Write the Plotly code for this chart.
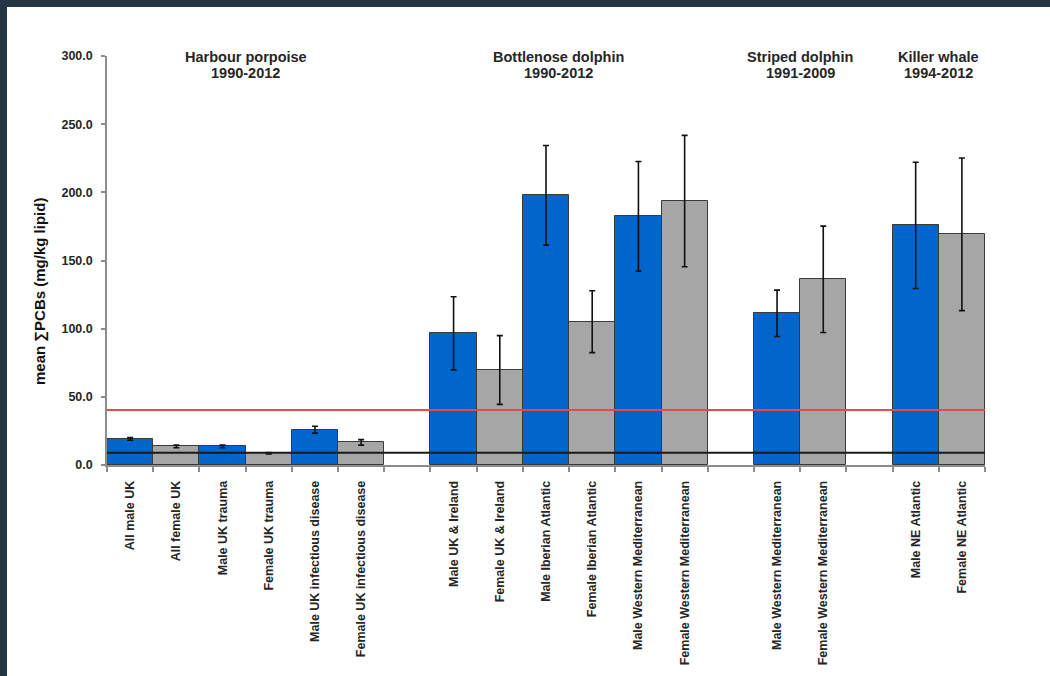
import plotly.graph_objects as go

# Species groups, sampling periods and per-group categories
groups = ["Harbour porpoise", "Bottlenose dolphin", "Striped dolphin", "Killer whale"]
periods = ["1990-2012", "1990-2012", "1991-2009", "1994-2012"]

porpoise_labels = ["All male UK", "All female UK", "Male UK trauma", "Female UK trauma",
                   "Male UK infectious disease", "Female UK infectious disease"]
porpoise_mean = [19.1, 13.6, 13.6, 8.6, 25.9, 16.6]
porpoise_err = [1.0, 1.0, 1.0, 0.5, 2.5, 2.0]

bottlenose_labels = ["Male UK & Ireland", "Female UK & Ireland", "Male Iberian Atlantic",
                     "Female Iberian Atlantic", "Male Western Mediterranean",
                     "Female Western Mediterranean"]
bottlenose_mean = [96.6, 69.7, 197.8, 105.1, 182.4, 193.6]
bottlenose_err = [26.8, 25.2, 36.5, 22.7, 40.2, 48.2]

striped_labels = ["Male Western Mediterranean", "Female Western Mediterranean"]
striped_mean = [111.3, 136.2]
striped_err = [17.0, 39.0]

killer_labels = ["Male NE Atlantic", "Female NE Atlantic"]
killer_mean = [175.8, 169.2]
killer_err = [46.3, 56.0]

# Reference thresholds (mg/kg lipid)
upper_threshold = 40.3
lower_threshold = 9.0

y_ticks = [0, 50, 100, 150, 200, 250, 300]

# ---- layout geometry ----
W, H = 1050, 676
ML, MR, MT, MB = 107, 65, 56, 211
PW, PH = W - ML - MR, H - MT - MB

BLUE = "#0066CC"
GREY = "#A6A6A6"
FONT = "Liberation Sans, Arial, sans-serif"
TXT = "#262626"

group_data = [
    (porpoise_labels, porpoise_mean, porpoise_err),
    (bottlenose_labels, bottlenose_mean, bottlenose_err),
    (striped_labels, striped_mean, striped_err),
    (killer_labels, killer_mean, killer_err),
]

# assign slot positions, leaving one empty slot between groups
xs, labels, means, errs, colors, centers = [], [], [], [], [], []
slot = 0
for gi, (lab, m, e) in enumerate(group_data):
    start = slot
    for l, v, err in zip(lab, m, e):
        xs.append(slot)
        labels.append(l)
        means.append(v)
        errs.append(err)
        colors.append(GREY if "emale" in l else BLUE)
        slot += 1
    centers.append((start + slot - 1) / 2)
    if gi < len(group_data) - 1:
        slot += 1
n_slots = slot

fig = go.Figure()
fig.add_trace(go.Bar(
    x=xs, y=means, width=1.0,
    marker=dict(color=colors, line=dict(color="#3a3a3a", width=1)),
    error_y=dict(type="data", array=errs, visible=True,
                 color="#111111", thickness=1.6, width=3),
    hoverinfo="x+y",
))

def px_x(p):
    return (p - ML) / PW

def px_y(p):
    return (H - MB - p) / PH

shapes = [
    # threshold lines
    dict(type="line", xref="paper", yref="y", x0=0, x1=1,
         y0=upper_threshold, y1=upper_threshold,
         line=dict(color="#E8494A", width=2), layer="above"),
    dict(type="line", xref="paper", yref="y", x0=0, x1=1,
         y0=lower_threshold, y1=lower_threshold,
         line=dict(color="#1a1a1a", width=2), layer="above"),
    # dark frame strips along top and left edges
    dict(type="rect", xref="paper", yref="paper",
         x0=px_x(0), x1=px_x(W), y0=px_y(7), y1=px_y(0),
         fillcolor="#243546", line=dict(width=0), layer="above"),
    dict(type="rect", xref="paper", yref="paper",
         x0=px_x(0), x1=px_x(7), y0=px_y(H), y1=px_y(0),
         fillcolor="#243546", line=dict(width=0), layer="above"),
]

annotations = []
title_xshift = [0, -11, 0, 0]
for c, g, p, dx in zip(centers, groups, periods, title_xshift):
    annotations.append(dict(x=c, y=px_y(57), xref="x", yref="paper", text=g,
                            showarrow=False, xshift=dx, yanchor="middle",
                            font=dict(family=FONT, size=14.5, color=TXT, weight="bold")))
    annotations.append(dict(x=c, y=px_y(73), xref="x", yref="paper", text=p,
                            showarrow=False, xshift=dx, yanchor="middle",
                            font=dict(family=FONT, size=14.5, color=TXT, weight="bold")))

annotations.append(dict(x=px_x(40), y=px_y(292), xref="paper", yref="paper",
                        text="mean ∑PCBs (mg/kg lipid)", textangle=-90,
                        showarrow=False, xanchor="center", yanchor="middle",
                        font=dict(family=FONT, size=15, color="#111111", weight="bold")))

fig.update_layout(
    width=W, height=H,
    margin=dict(l=ML, r=MR, t=MT, b=MB, pad=0),
    paper_bgcolor="white", plot_bgcolor="white",
    showlegend=False, bargap=0,
    shapes=shapes, annotations=annotations,
    xaxis=dict(
        range=[-0.5, n_slots - 0.5], tickmode="array", tickvals=xs, ticktext=labels,
        tickangle=-90, ticks="", ticklabelstandoff=9,
        tickfont=dict(family=FONT, size=12.5, color=TXT, weight="bold"),
        showline=True, linecolor="#8c8c8c", linewidth=1.5,
        showgrid=False, zeroline=False,
        minor=dict(tickmode="array", tickvals=[i - 0.5 for i in range(n_slots + 1)],
                   ticks="outside", ticklen=5, tickcolor="#8c8c8c", tickwidth=1.5,
                   showgrid=False),
    ),
    yaxis=dict(
        range=[0, 300], tickmode="array", tickvals=y_ticks,
        ticktext=[f"{v:.1f}" for v in y_ticks],
        ticks="outside", ticklen=4, tickcolor="#8c8c8c", tickwidth=1.5,
        ticklabelstandoff=6,
        tickfont=dict(family=FONT, size=12.5, color=TXT, weight="bold"),
        showline=True, linecolor="#8c8c8c", linewidth=1.5,
        showgrid=False, zeroline=False,
    ),
)

fig.write_html("out.html")
